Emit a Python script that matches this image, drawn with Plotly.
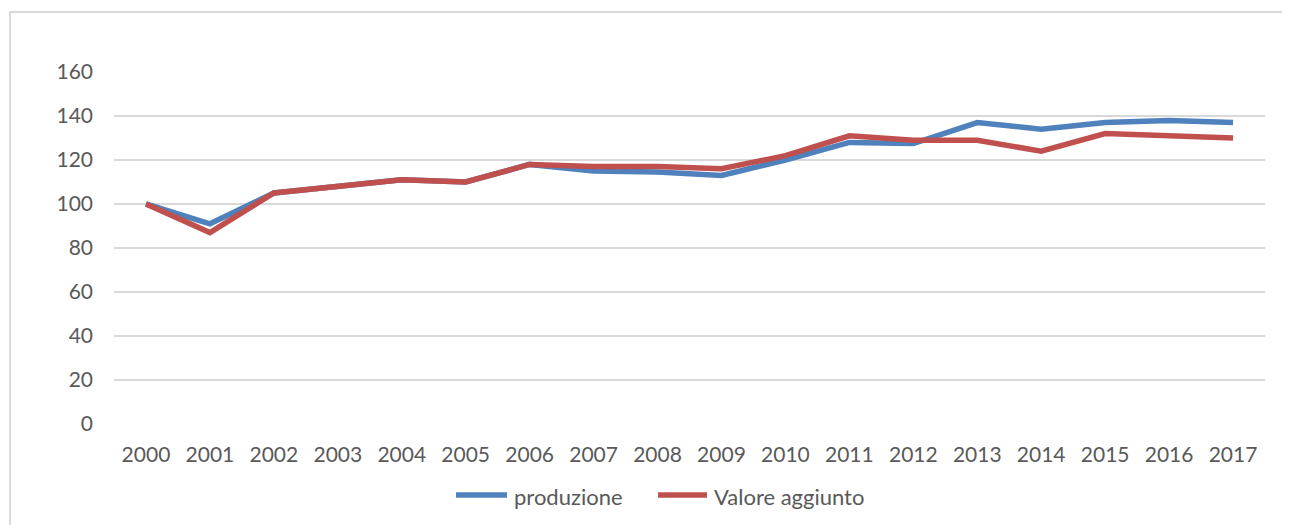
import plotly.graph_objects as go

years = [str(y) for y in range(2000, 2018)]
produzione = [100, 91, 105, 108, 111, 110, 118, 115, 114.5, 113, 120, 128, 127.5, 137, 134, 137, 138, 137]
valore_aggiunto = [100, 87, 105, 108, 111, 110, 118, 117, 117, 116, 122, 131, 129, 129, 124, 132, 131, 130]
y_ticks = [0, 20, 40, 60, 80, 100, 120, 140, 160]
series_names = ["produzione", "Valore aggiunto"]
series_colors = ["#4F81BD", "#C0504D"]

# page has an 8px body margin; compensate so the plot sits where the reference has it
OFF = 8
W, H = 1290, 525
L, R, T, B = 114 - OFF, 25 + OFF, 72 - OFF, 101 + OFF
pw, ph = W - L - R, H - T - B

def px_x(p):
    return (p - OFF - L) / pw

def px_y(p):
    return (H - B - (p - OFF)) / ph

font = "Lato, Carlito, 'Open Sans', sans-serif"
grey = "#595959"

fig = go.Figure()
for name, vals, col in zip(series_names, [produzione, valore_aggiunto], series_colors):
    fig.add_trace(go.Scatter(x=years, y=vals, mode="lines", name=name,
                             line=dict(color=col, width=5.5), showlegend=False))

# custom legend (line sample + text), placed as in the reference
legend_pos = [(453, 510), (655, 710)]
shapes = [dict(type="rect", xref="paper", yref="paper",
               x0=px_x(10), x1=px_x(1310), y0=px_y(560), y1=px_y(12),
               line=dict(color="#D9D9D9", width=2), fillcolor="rgba(0,0,0,0)", layer="below")]
annotations = []
for (x0, x1), name, col in zip(legend_pos, series_names, series_colors):
    shapes.append(dict(type="line", xref="paper", yref="paper",
                       x0=px_x(x0 + 3), x1=px_x(x1 - 3), y0=px_y(495), y1=px_y(495),
                       line=dict(color=col, width=5.5)))
    annotations.append(dict(xref="paper", yref="paper", x=px_x(x1 + 2), y=px_y(496),
                            xanchor="left", yanchor="middle", showarrow=False, text=name,
                            font=dict(family=font, size=22, color=grey)))

fig.update_layout(
    width=W, height=H,
    margin=dict(l=L, r=R, t=T, b=B, autoexpand=False),
    paper_bgcolor="white", plot_bgcolor="white",
    font=dict(family=font, size=21, color=grey),
    showlegend=False,
    xaxis=dict(type="category", range=[-0.5, 17.5], showgrid=False, zeroline=False,
               showline=False, ticks="", tickfont=dict(size=21, color=grey),
               ticklabelstandoff=16, automargin=False),
    yaxis=dict(range=[0, 160], tickvals=y_ticks, showgrid=True, gridcolor="#D9D9D9",
               gridwidth=1.5, zeroline=False, showline=False, ticks="",
               tickfont=dict(size=21, color=grey), ticklabelstandoff=20, automargin=False),
    shapes=shapes,
    annotations=annotations,
)

fig.write_html("out.html")
